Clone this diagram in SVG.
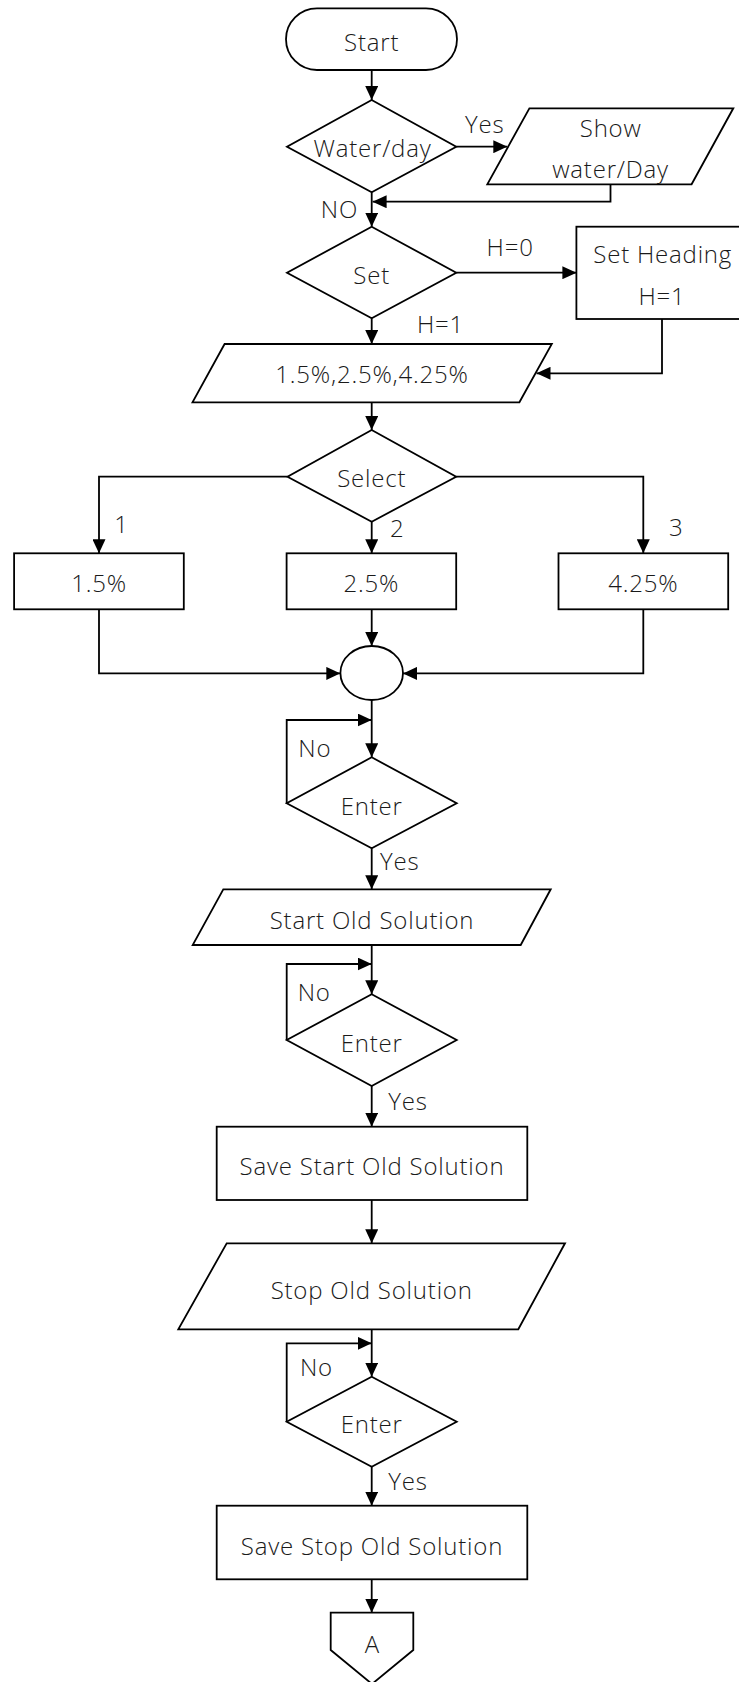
<svg xmlns="http://www.w3.org/2000/svg" width="739" height="1682" viewBox="0 0 739 1682">
  <style>
    .shape { fill: #ffffff; stroke: #000000; stroke-width: 1.8; }
    .link { fill: none; stroke: #000000; stroke-width: 1.8; }
    text { font-family: "Open Sans", "Noto Sans", "DejaVu Sans", sans-serif; font-weight: 300; font-size: 24px; fill: #1a1a1a; letter-spacing: 0.8px; }
    .c { text-anchor: middle; }
  </style>
  <defs>
    <marker id="arrow" markerUnits="userSpaceOnUse" markerWidth="14" markerHeight="13" refX="14" refY="6.5" orient="auto">
      <path d="M0,0 L14,6.5 L0,13 Z" fill="#000000"/>
    </marker>
  </defs>

  <rect width="739" height="1682" fill="#ffffff"/>

  <!-- connectors -->
  <g id="connectors" class="link" marker-end="url(#arrow)">
    <line x1="371.7" y1="70" x2="371.7" y2="100"/>
    <line x1="456.3" y1="146.7" x2="507.3" y2="146.7"/>
    <polyline points="610.5,184.3 610.5,201.7 372.6,201.7"/>
    <line x1="371.7" y1="192.3" x2="371.7" y2="226.7"/>
    <line x1="456.3" y1="272.7" x2="576.4" y2="272.7"/>
    <line x1="371.7" y1="318.3" x2="371.7" y2="344"/>
    <polyline points="662,319 662,373.3 536.5,373.3"/>
    <line x1="371.7" y1="402.3" x2="371.7" y2="430"/>
    <polyline points="287.5,476.7 99,476.7 99,553.3"/>
    <line x1="371.7" y1="521.7" x2="371.7" y2="553.3"/>
    <polyline points="456.2,476.7 643.3,476.7 643.3,553.3"/>
    <polyline points="99,609.3 99,673.4 340.3,673.4"/>
    <line x1="371.7" y1="609.3" x2="371.7" y2="646"/>
    <polyline points="643.3,609.3 643.3,673.4 403,673.4"/>
    <line x1="371.7" y1="700" x2="371.7" y2="757.3"/>
    <polyline points="286.7,803.3 286.7,720 371.7,720"/>
    <line x1="371.7" y1="848.3" x2="371.7" y2="889.3"/>
    <line x1="371.7" y1="945" x2="371.7" y2="994.3"/>
    <polyline points="286.7,1040 286.7,964 371.7,964"/>
    <line x1="371.7" y1="1086" x2="371.7" y2="1126.7"/>
    <line x1="371.7" y1="1200" x2="371.7" y2="1243.3"/>
    <line x1="371.7" y1="1329.3" x2="371.7" y2="1376.7"/>
    <polyline points="286.7,1421.7 286.7,1343.3 371.7,1343.3"/>
    <line x1="371.7" y1="1466.7" x2="371.7" y2="1505.7"/>
    <line x1="371.7" y1="1579.3" x2="371.7" y2="1612.7"/>
  </g>

  <!-- connector labels -->
  <g id="labels">
    <text x="465" y="133.3">Yes</text>
    <text x="320.8" y="218.3">NO</text>
    <text x="486.6" y="255.7">H=0</text>
    <text x="417" y="332.7">H=1</text>
    <text class="c" x="121.6" y="533.3">1</text>
    <text class="c" x="397.3" y="536.7">2</text>
    <text class="c" x="676.3" y="536">3</text>
    <text x="298.3" y="756.7">No</text>
    <text x="380" y="870">Yes</text>
    <text x="297.7" y="1001">No</text>
    <text x="388.3" y="1110">Yes</text>
    <text x="300" y="1376">No</text>
    <text x="388.3" y="1490">Yes</text>
  </g>

  <g id="start">
    <rect class="shape" x="286" y="8.3" width="171" height="61.7" rx="31" ry="31"/>
    <text class="c" x="371.7" y="50.7">Start</text>
  </g>

  <g id="water-day">
    <polygon class="shape" points="371.7,100 456.3,146.7 371.7,192.3 287,146.7"/>
    <text class="c" x="372.5" y="156.7">Water/day</text>
  </g>

  <g id="show-water-day">
    <polygon class="shape" points="529.4,108.3 733.3,108.3 691.6,184.3 487.3,184.3"/>
    <text class="c" x="610.7" y="136.7">Show</text>
    <text class="c" x="610.5" y="178.3">water/Day</text>
  </g>

  <g id="set">
    <polygon class="shape" points="371.7,226.7 456.3,272.7 371.7,318.3 287,272.7"/>
    <text class="c" x="371.7" y="284">Set</text>
  </g>

  <g id="set-heading">
    <rect class="shape" x="576.4" y="226.7" width="175" height="92.3"/>
    <text class="c" x="662.7" y="263.3">Set Heading</text>
    <text class="c" x="662" y="305">H=1</text>
  </g>

  <g id="percent-input">
    <polygon class="shape" points="224.6,344 551.8,344 519.4,402.3 192.5,402.3"/>
    <text class="c" x="372" y="383.3">1.5%,2.5%,4.25%</text>
  </g>

  <g id="select">
    <polygon class="shape" points="371.7,430 456.2,476.7 371.7,521.7 287.5,476.7"/>
    <text class="c" x="371.7" y="486.7">Select</text>
  </g>

  <g id="box-1-5">
    <rect class="shape" x="14.1" y="553.3" width="169.7" height="56"/>
    <text class="c" x="99" y="591.7">1.5%</text>
  </g>

  <g id="box-2-5">
    <rect class="shape" x="286.6" y="553.3" width="169.6" height="56"/>
    <text class="c" x="371.4" y="591.7">2.5%</text>
  </g>

  <g id="box-4-25">
    <rect class="shape" x="558.5" y="553.3" width="169.7" height="56"/>
    <text class="c" x="643.3" y="591.7">4.25%</text>
  </g>

  <g id="merge">
    <ellipse class="shape" cx="371.7" cy="673" rx="31.3" ry="27"/>
  </g>

  <g id="enter-1">
    <polygon class="shape" points="371.7,757.3 456.7,803.3 371.7,848.3 286.7,803.3"/>
    <text class="c" x="371.7" y="815">Enter</text>
  </g>

  <g id="start-old-solution">
    <polygon class="shape" points="223.3,889.3 550.7,889.3 520.7,945 192.7,945"/>
    <text class="c" x="372" y="929.3">Start Old Solution</text>
  </g>

  <g id="enter-2">
    <polygon class="shape" points="371.7,994.3 456.7,1040 371.7,1086 286.7,1040"/>
    <text class="c" x="371.7" y="1051.7">Enter</text>
  </g>

  <g id="save-start-old-solution">
    <rect class="shape" x="216.7" y="1126.7" width="310.6" height="73.3"/>
    <text class="c" x="372" y="1175">Save Start Old Solution</text>
  </g>

  <g id="stop-old-solution">
    <polygon class="shape" points="226.7,1243.3 565,1243.3 518.3,1329.3 178.3,1329.3"/>
    <text class="c" x="371.7" y="1299.3">Stop Old Solution</text>
  </g>

  <g id="enter-3">
    <polygon class="shape" points="371.7,1376.7 456.7,1421.7 371.7,1466.7 286.7,1421.7"/>
    <text class="c" x="371.7" y="1433.3">Enter</text>
  </g>

  <g id="save-stop-old-solution">
    <rect class="shape" x="216.7" y="1505.7" width="310.6" height="73.6"/>
    <text class="c" x="372" y="1555">Save Stop Old Solution</text>
  </g>

  <g id="connector-a">
    <polygon class="shape" points="330.7,1612.7 413.3,1612.7 413.3,1650 372,1684 330.7,1650"/>
    <text class="c" x="372.3" y="1653.3">A</text>
  </g>
</svg>
